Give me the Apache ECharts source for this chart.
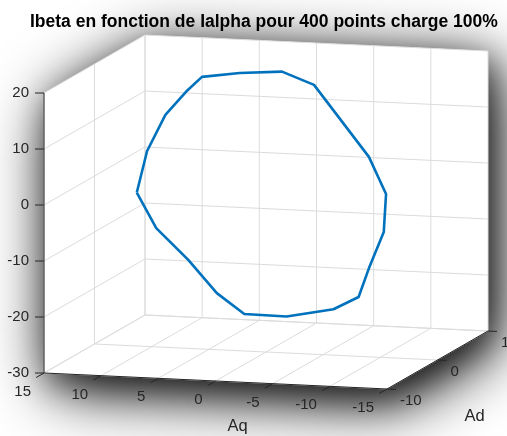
<!DOCTYPE html>
<html>
<head>
<meta charset="utf-8">
<script src="https://cdn.jsdelivr.net/npm/echarts@6/dist/echarts.min.js"></script>
<style>
html,body{margin:0;padding:0;background:#fff;}
#c{width:507px;height:436px;}
</style>
</head>
<body>
<div id="c"></div>
<script>
// ---- data ----
const titleText = 'Ibeta en fonction de Ialpha pour 400 points charge 100%';
const aqTicks = [15, 10, 5, 0, -5, -10, -15];
const adTicks = [-10, 0, 10];
const zTicks = [-30, -20, -10, 0, 10, 20];
const aqValues = [11.3, 10.4, 8.8, 7.0, 5.6, 2.3, -1.4, -4.2, -9.0, -10.5, -10.3, -9.0, -8.1, -5.9, -1.8, 1.9, 4.3, 6.8, 9.6, 11.3];
const adValues = [0, 0, 0, 0, 0, 0, 0, 0, 0, 0, 0, 0, 0, 0, 0, 0, 0, 0, 0, 0];
const ibetaValues = [-2.6, 4.9, 11.5, 15.8, 18.6, 19.6, 20.2, 18.1, 5.7, -0.8, -7.6, -14.2, -19.4, -21.8, -23.5, -23.4, -19.9, -14.2, -8.8, -2.6];

// ---- view (orthographic projection of the 3D box) ----
const AQ = [15, -15], AD = [-10, 10], ZR = [-30, 20];
const O = [44, 373];          // screen point of (Aq=15, Ad=-10, z=-30)
const VAQ = [343, 16];        // full Aq range
const VAD = [101, -58];       // full Ad range
const VZ = [0, -280];         // full z range
function proj(aq, ad, z) {
  const a = (aq - AQ[0]) / (AQ[1] - AQ[0]);
  const b = (ad - AD[0]) / (AD[1] - AD[0]);
  const c = (z - ZR[0]) / (ZR[1] - ZR[0]);
  return [O[0] + a * VAQ[0] + b * VAD[0] + c * VZ[0],
          O[1] + a * VAQ[1] + b * VAD[1] + c * VZ[1]];
}
const FONT = '"Liberation Sans", Arial, Helvetica, sans-serif';
const GRID = '#dcdcdc', AX = '#262626';

const curve = aqValues.map((v, i) => proj(v, adValues[i], ibetaValues[i]));

function renderBox(params, api) {
  const P = (aq, ad, z) => api.coord(proj(aq, ad, z));
  const ch = [];
  const seg = (p, q, color, w) => ch.push({type: 'line', shape: {x1: p[0], y1: p[1], x2: q[0], y2: q[1]}, style: {stroke: color, lineWidth: w}});
  const txt = (s, p, dx, dy, align, va, size, weight) => ch.push({type: 'text', style: {
    text: s, x: p[0] + dx, y: p[1] + dy, align: align, textAlign: align, verticalAlign: va, textVerticalAlign: va,
    fill: AX, font: (weight || 'normal') + ' ' + size + 'px ' + FONT}});
  // shadowed backdrop
  const hull = [P(15, -10, 20), P(15, 10, 20), P(-15, 10, 20), P(-15, 10, -30), P(-15, -10, -30), P(15, -10, -30)];
  ch.push({type: 'polygon', shape: {points: hull}, style: {fill: '#fff', shadowBlur: 64, shadowColor: 'rgba(0,0,0,1)', shadowOffsetX: 8, shadowOffsetY: 14}});
  ch.push({type: 'polygon', shape: {points: hull}, style: {fill: '#fff', shadowBlur: 30, shadowColor: 'rgba(0,0,0,0.45)', shadowOffsetX: 5, shadowOffsetY: 10}});
  // back wall (Ad=10)
  aqTicks.forEach(t => seg(P(t, 10, ZR[0]), P(t, 10, ZR[1]), GRID, 1));
  zTicks.forEach(t => seg(P(AQ[0], 10, t), P(AQ[1], 10, t), GRID, 1));
  // left wall (Aq=15)
  zTicks.forEach(t => seg(P(15, AD[0], t), P(15, AD[1], t), GRID, 1));
  adTicks.forEach(t => seg(P(15, t, ZR[0]), P(15, t, ZR[1]), GRID, 1));
  // floor (z=-30)
  aqTicks.forEach(t => seg(P(t, AD[0], -30), P(t, AD[1], -30), GRID, 1));
  adTicks.forEach(t => seg(P(AQ[0], t, -30), P(AQ[1], t, -30), GRID, 1));
  // axes
  seg(P(15, -10, -30), P(15, -10, 20), AX, 1);
  seg(P(15, -10, -30), P(-15, -10, -30), AX, 1);
  seg(P(-15, -10, -30), P(-15, 10, -30), AX, 1);
  // ticks
  const L = 9;
  const adDir = [-VAD[0] / Math.hypot(VAD[0], VAD[1]), -VAD[1] / Math.hypot(VAD[0], VAD[1])];
  const aqDir = [VAQ[0] / Math.hypot(VAQ[0], VAQ[1]), VAQ[1] / Math.hypot(VAQ[0], VAQ[1])];
  zTicks.forEach(t => { const p = P(15, -10, t); seg(p, [p[0] - L, p[1]], AX, 1); txt(String(t), p, -15, 0, 'right', 'middle', 15); });
  aqTicks.forEach(t => { const p = P(t, -10, -30); seg(p, [p[0] + adDir[0] * L, p[1] + adDir[1] * L], AX, 1); txt(String(t), p, -13, 19, 'right', 'middle', 15); });
  adTicks.forEach(t => { const p = P(-15, t, -30); seg(p, [p[0] + aqDir[0] * L, p[1] + aqDir[1] * L], AX, 1); txt(String(t), p, 13, 12, 'left', 'middle', 15); });
  // axis names
  txt('Aq', P(0, -10, -30), 22, 45, 'center', 'middle', 16.5);
  txt('Ad', P(-15, 0, -30), 37, 56, 'center', 'middle', 16.5);
  return {type: 'group', children: ch};
}

const chart = echarts.init(document.getElementById('c'), null, {renderer: 'canvas'});
chart.setOption({
  animation: false,
  backgroundColor: '#fff',
  title: {text: titleText, left: 25, top: 8, textStyle: {fontFamily: FONT, fontSize: 17.5, fontWeight: 'bold', color: '#000'}},
  grid: {left: 0, right: 0, top: 0, bottom: 0},
  xAxis: {type: 'value', min: 0, max: 507, show: false},
  yAxis: {type: 'value', min: 0, max: 436, inverse: true, show: false},
  series: [
    {type: 'custom', data: [0], renderItem: renderBox, silent: true, z: 1, clip: false},
    {type: 'line', data: curve, showSymbol: false, symbol: 'none', silent: true, z: 5,
     lineStyle: {color: '#0072BD', width: 2.6}}
  ]
});
</script>
</body>
</html>
